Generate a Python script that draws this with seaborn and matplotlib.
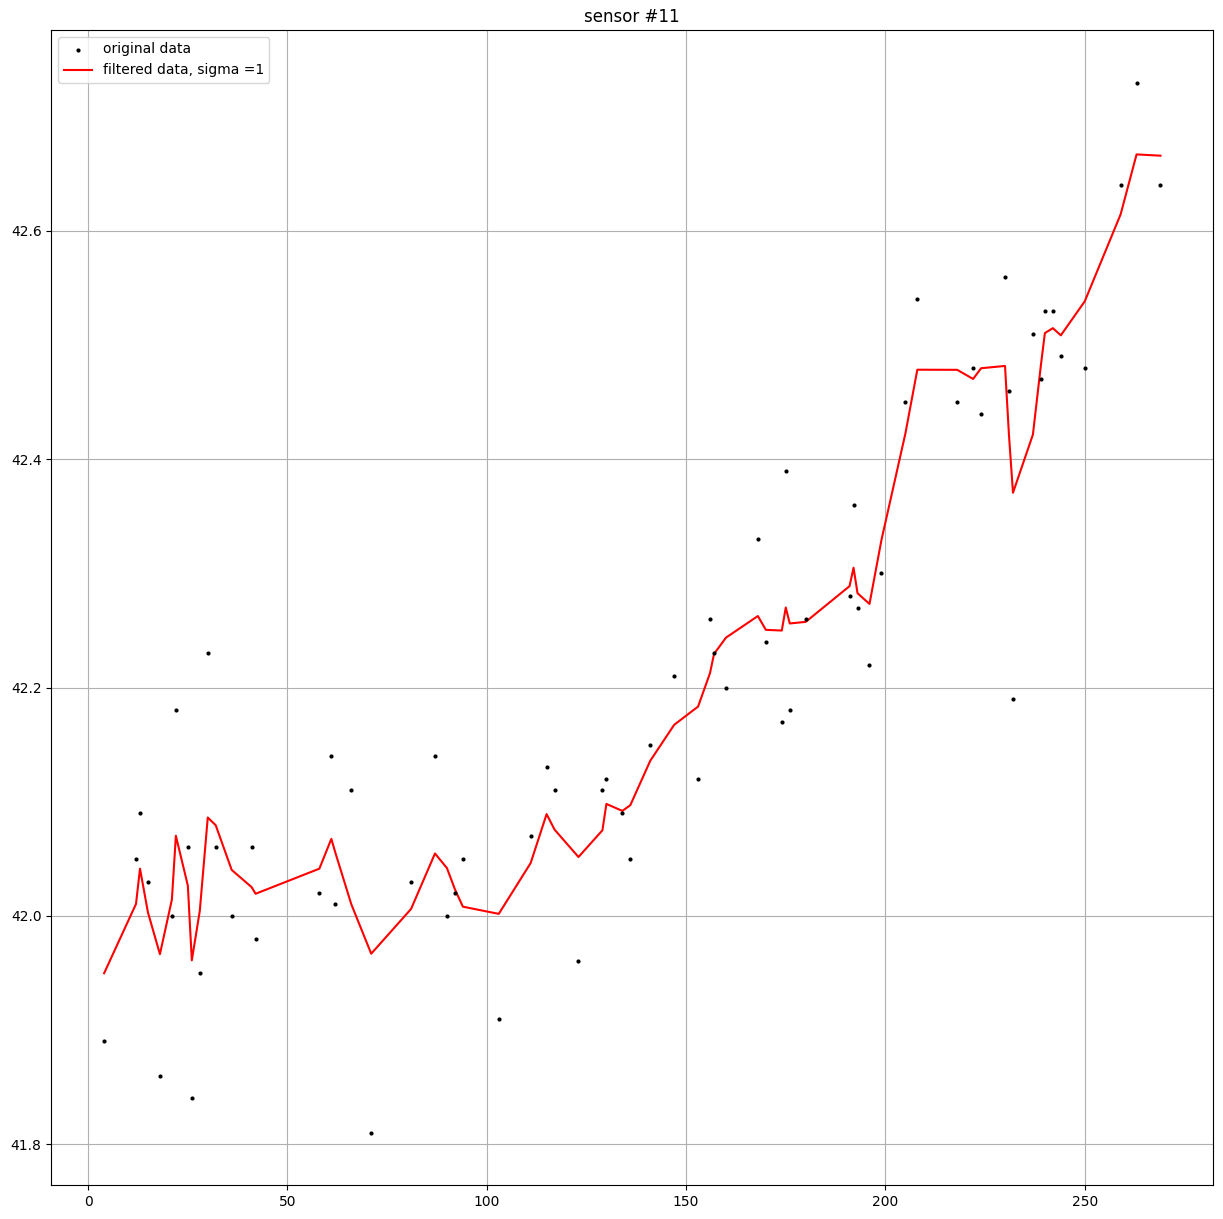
import numpy as np
import pandas as pd
import matplotlib
matplotlib.use("Agg")
import matplotlib.pyplot as plt
import seaborn as sns

x_vals = [4, 12, 13, 15, 18, 21, 22, 25, 26, 28, 30, 32, 36, 41, 42, 58, 61, 62, 66, 71,
          81, 87, 90, 92, 94, 103, 111, 115, 117, 123, 129, 130, 134, 136, 141, 147, 153,
          156, 157, 160, 168, 170, 174, 175, 176, 180, 191, 192, 193, 196, 199, 205, 208,
          218, 222, 224, 230, 231, 232, 237, 239, 240, 242, 244, 250, 259, 263, 269]
y_original = [41.89, 42.05, 42.09, 42.03, 41.86, 42.00, 42.18, 42.06, 41.84, 41.95, 42.23, 42.06,
              42.00, 42.06, 41.98, 42.02, 42.14, 42.01, 42.11, 41.81, 42.03, 42.14, 42.00, 42.02,
              42.05, 41.91, 42.07, 42.13, 42.11, 41.96, 42.11, 42.12, 42.09, 42.05, 42.15, 42.21,
              42.12, 42.26, 42.23, 42.20, 42.33, 42.24, 42.17, 42.39, 42.18, 42.26, 42.28, 42.36,
              42.27, 42.22, 42.30, 42.45, 42.54, 42.45, 42.48, 42.44, 42.56, 42.46, 42.19, 42.51,
              42.47, 42.53, 42.53, 42.49, 42.48, 42.64, 42.73, 42.64]
y_filtered = [41.9497, 42.0104, 42.0413, 42.0029, 41.9664, 42.0142, 42.0701, 42.0265, 41.9610,
              42.0043, 42.0861, 42.0793, 42.0402, 42.0251, 42.0193, 42.0413, 42.0674, 42.0554,
              42.0102, 41.9668, 42.0060, 42.0546, 42.0418, 42.0232, 42.0080, 42.0017, 42.0462,
              42.0891, 42.0755, 42.0515, 42.0749, 42.0980, 42.0919, 42.0969, 42.1358, 42.1673,
              42.1833, 42.2127, 42.2294, 42.2437, 42.2626, 42.2505, 42.2499, 42.2701, 42.2561,
              42.2575, 42.2888, 42.3049, 42.2826, 42.2732, 42.3292, 42.4224, 42.4784, 42.4783,
              42.4703, 42.4797, 42.4817, 42.4206, 42.3706, 42.4216, 42.4824, 42.5105, 42.5148,
              42.5085, 42.5383, 42.6145, 42.6670, 42.6659]

title_text = "sensor #11"
label_orig = "original data"
label_filt = "filtered data, sigma =1"

df = pd.DataFrame({"x": x_vals, "orig": y_original, "filt": y_filtered})

plt.rcParams['font.family'] = ['DejaVu Sans']
fig = plt.figure(figsize=(12.23, 12.19), dpi=100)
ax = fig.add_axes([0.04195, 0.02773, 0.99207 - 0.04195, 0.97539 - 0.02773])

sns.scatterplot(data=df, x="x", y="orig", ax=ax, color="black", marker="o", s=9,
                linewidth=0, label=label_orig, zorder=3)
sns.lineplot(data=df, x="x", y="filt", ax=ax, color="red", linewidth=1.5,
             estimator=None, sort=False, label=label_filt, zorder=2)

ax.margins(0.05)
ax.autoscale(True)
ax.grid(True, color="#b0b0b0", linewidth=0.8)
ax.set_axisbelow(True)
ax.set_xlabel("")
ax.set_ylabel("")
ax.set_yticks([41.8, 42.0, 42.2, 42.4, 42.6])
ax.set_xticks([0, 50, 100, 150, 200, 250])
ax.set_title(title_text, fontsize=12)
ax.legend(loc="upper left")

fig.savefig("out.png", dpi=100)
